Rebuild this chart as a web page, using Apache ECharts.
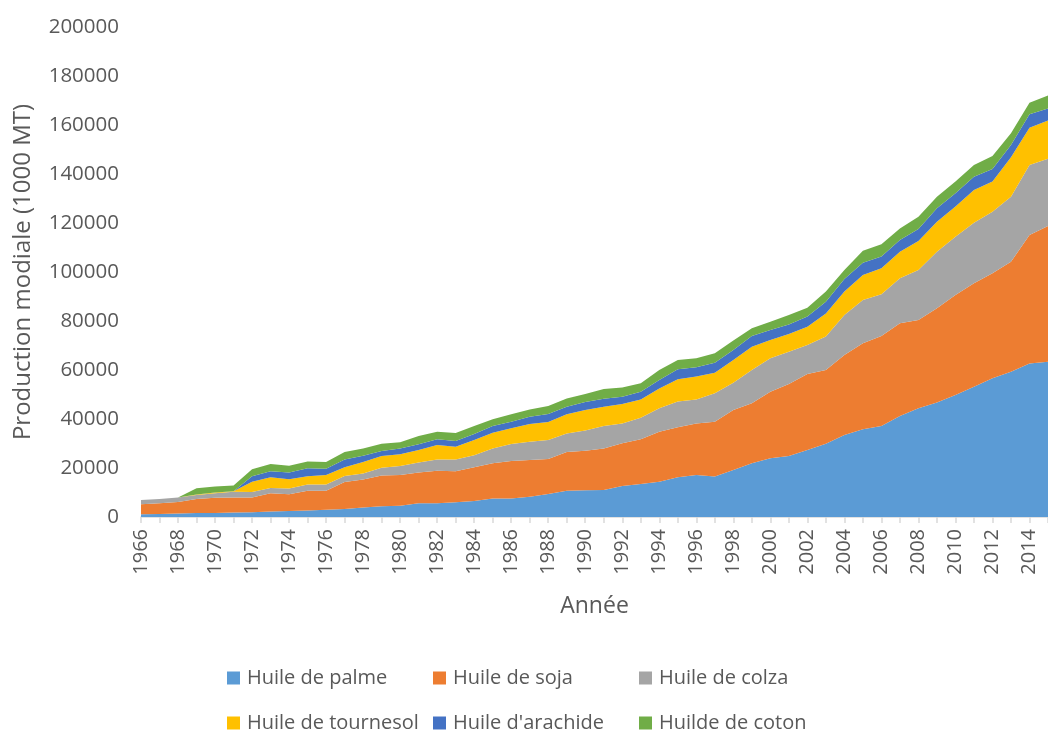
<!DOCTYPE html>
<html>
<head>
<meta charset="utf-8">
<script src="https://cdn.jsdelivr.net/npm/echarts@6/dist/echarts.min.js"></script>
<style>html,body{margin:0;padding:0;background:#fff;}#c{width:1048px;height:732px;}</style>
</head>
<body>
<div id="c"></div>
<script>
const years = [];
for (let y = 1966; y <= 2015; y++) years.push(String(y));

const palme = [1100,1200,1400,1600,1600,1800,1900,2200,2400,2700,3000,3300,3900,4400,4600,5600,5600,6000,6500,7600,7600,8300,9400,10700,10900,11000,12700,13500,14400,16200,17100,16500,19200,21900,24000,24900,27300,29900,33500,35800,37100,41200,44400,46700,49800,53200,56600,59300,62700,63400];
const soja = [4100,4400,4700,5700,6300,6200,6100,7500,6900,8000,7700,11000,11400,12500,12500,12600,13300,12700,13800,14300,15300,15000,14300,15800,16100,17000,17400,18200,20400,20400,21100,22400,24500,24500,27100,29400,31100,30100,32600,35100,36800,37900,36000,38500,40800,42200,42900,44900,52400,55400];
const colza = [1700,1700,1900,1700,1800,2300,2200,2100,2300,2600,2600,2400,2500,3200,3700,4000,4600,4800,4900,6100,6900,7400,7700,7600,8300,9100,8100,8800,9600,10500,9800,11600,11100,13600,13700,13200,11800,13700,16300,17700,17000,18300,20400,23100,23800,24700,25100,26500,28600,27400];
const tournesol = [0,0,0,200,300,200,4200,4400,3800,3300,3800,3600,4600,4800,4800,5100,5900,5200,6200,6400,6400,7300,7400,7800,8400,7900,7900,7500,8100,9100,9300,8400,9300,9500,7400,7200,7500,9400,9600,10200,10600,10900,11900,12200,12300,13400,12300,16100,15200,15600];
const arachide = [0,0,0,0,0,0,2200,2500,2800,3300,2600,3200,2600,2000,2400,2400,2300,2300,2500,2700,2700,2900,3200,3100,3200,3300,3000,3100,3400,4100,3800,4100,4100,4400,4100,3900,4100,4800,5100,5000,4800,4800,4900,5500,5400,5400,5100,5000,5500,4900];
const coton = [0,0,0,2500,2400,2400,2900,2900,2700,2800,2800,3000,3000,3000,2500,3400,3100,3300,3200,2800,3000,3000,3300,3400,3300,3900,3800,3500,4100,3800,3700,3800,3800,3100,3400,3800,3600,4100,3700,4900,5000,4700,5000,4700,4800,4800,5300,4800,4700,5300];

const seriesNames = ['Huile de palme','Huile de soja','Huile de colza','Huile de tournesol',"Huile d'arachide",'Huilde de coton'];
const seriesData = [palme, soja, colza, tournesol, arachide, coton];
const colors = ['#5B9BD5','#ED7D31','#A5A5A5','#FFC000','#4472C4','#70AD47'];

const FONT = 'Open Sans';
const legendPos = [[222,663],[428,663],[634,663],[222,708],[428,708],[634,708]];

const chart = echarts.init(document.getElementById('c'), null, {renderer:'canvas'});
chart.setOption({
  animation: false,
  backgroundColor: '#fff',
  color: colors,
  grid: {left: 141, right: -8, top: 27, bottom: 215, containLabel: false},
  legend: seriesNames.map((n, i) => ({
    data: [n],
    left: legendPos[i][0],
    top: legendPos[i][1],
    padding: 5,
    itemWidth: 13,
    itemHeight: 13,
    itemGap: 0,
    icon: 'rect',
    textStyle: {fontFamily: FONT, fontSize: 20, color: '#595959', padding: [0,0,0,2]},
    selectedMode: false
  })),
  xAxis: {
    type: 'category',
    data: years,
    boundaryGap: false,
    name: 'Année',
    nameLocation: 'middle',
    nameGap: 78,
    nameTextStyle: {fontFamily: FONT, fontSize: 23, color: '#595959'},
    axisLine: {lineStyle: {color: '#D9D9D9', width: 1.5}},
    axisTick: {show: true, interval: 0, length: 6, lineStyle: {color: '#D9D9D9', width: 1.5}},
    axisLabel: {interval: 1, rotate: 90, margin: 12, fontFamily: FONT, fontSize: 20, color: '#595959'},
    splitLine: {show: false}
  },
  yAxis: {
    type: 'value',
    min: 0, max: 200000, interval: 20000,
    name: 'Production modiale (1000 MT)',
    nameLocation: 'middle',
    nameGap: 106,
    nameTextStyle: {fontFamily: FONT, fontSize: 24, color: '#595959'},
    axisLine: {show: false},
    axisTick: {show: false},
    splitLine: {show: false},
    axisLabel: {margin: 22, fontFamily: FONT, fontSize: 20.5, color: '#595959', formatter: v => String(v)}
  },
  series: seriesNames.map((n, i) => ({
    name: n,
    type: 'line',
    stack: 'total',
    data: seriesData[i],
    symbol: 'none',
    lineStyle: {width: 0},
    areaStyle: {color: colors[i], opacity: 1},
    itemStyle: {color: colors[i]}
  }))
});
</script>
</body>
</html>
